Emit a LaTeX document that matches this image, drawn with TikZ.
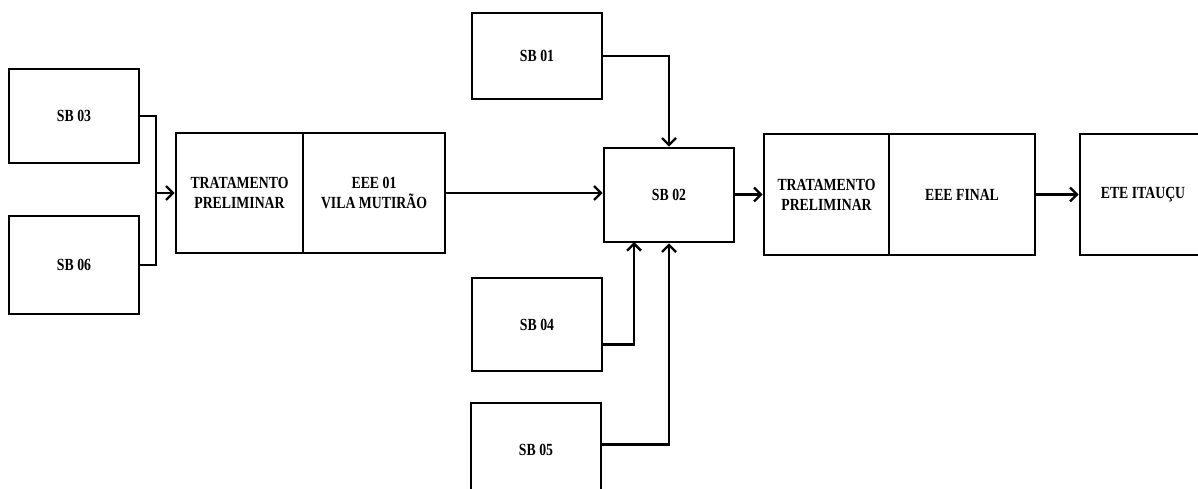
\documentclass[tikz,border=0pt]{standalone}
\usepackage{fontspec}
\setmainfont{Liberation Serif}[FakeStretch=0.81]
\usetikzlibrary{arrows.meta,calc}
\tikzset{
  box/.style={draw=black, line width=2.6pt, fill=white, inner sep=0pt, align=center,
    font=\fontsize{17}{20}\selectfont\bfseries},
  conn/.style={draw=black, line width=2.4pt, line join=miter},
  arr/.style={conn, -{Straight Barb[length=7pt,width=14pt,line width=2.4pt]}}
}
\begin{document}
\begin{tikzpicture}[x=1pt,y=-1pt]
\useasboundingbox (0,0) rectangle (1198,489);
\clip (0,0) rectangle (1198,489);
% boxes
\node[box, minimum width=130pt, minimum height=94pt] (sb03) at (74,116) {SB 03};
\node[box, minimum width=130pt, minimum height=98pt] (sb06) at (74,265) {SB 06};
\node[box, minimum width=127pt, minimum height=120pt] (tp1a) at (239.5,193) {TRATAMENTO\\PRELIMINAR};
\node[box, minimum width=142pt, minimum height=120pt] (tp1b) at (374,193) {EEE 01\\VILA MUTIRÃO};
\node[box, minimum width=130pt, minimum height=86pt] (sb01) at (537,56) {SB 01};
\node[box, minimum width=130pt, minimum height=94pt] (sb02) at (669,195) {SB 02};
\node[box, minimum width=130pt, minimum height=93pt] (sb04) at (537,324.5) {SB 04};
\node[box, minimum width=130pt, minimum height=93pt] (sb05) at (536,449.5) {SB 05};
\node[box, minimum width=125pt, minimum height=121pt] (tp2a) at (826.5,194.5) {TRATAMENTO\\PRELIMINAR};
\node[box, minimum width=146pt, minimum height=121pt] (tp2b) at (962,194.5) {EEE FINAL};
\node[box, minimum width=126pt, minimum height=121pt] (ete) at (1143,194.5) {ETE ITAUÇU};
% helper coordinates
\coordinate (j1) at (156,193);
\coordinate (b4) at (634,242);
% connectors
\draw[conn] (sb03.east) -| (j1) |- (sb06.east);
\draw[arr] (j1) -- (tp1a.west);
\draw[arr] (tp1b.east) -- (tp1b.east -| sb02.west);
\draw[arr] (sb01.east) -| (sb02.north);
\draw[arr] ($(sb04.east)+(0,20)$) -| (b4);
\draw[arr] ($(sb05.east)+(0,-5)$) -| (sb02.south);
\draw[arr] (sb02.east |- tp2a.west) -- (tp2a.west);
\draw[arr] (tp2b.east) -- (ete.west);
\end{tikzpicture}
\end{document}
